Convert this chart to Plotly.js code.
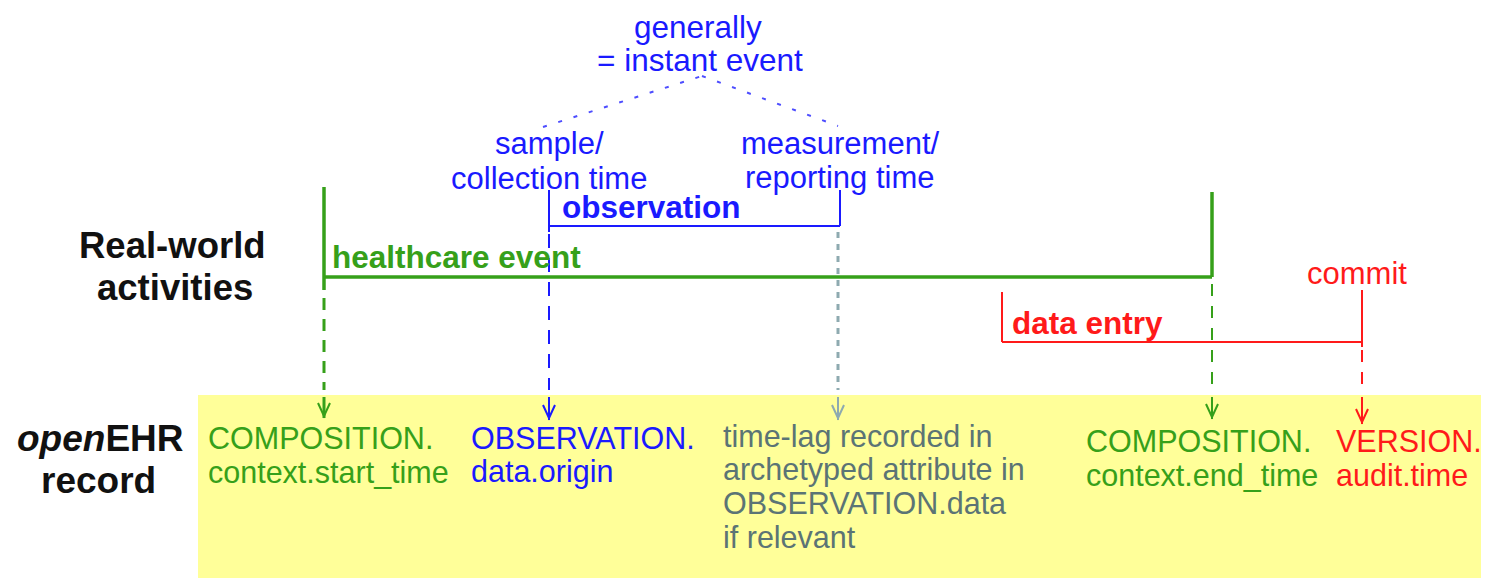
<!DOCTYPE html>
<html>
<head>
<meta charset="utf-8">
<script src="https://cdn.plot.ly/plotly-3.0.1.min.js"></script>
<style>html,body{margin:0;padding:0;background:#fff;}#chart{width:1485px;height:578px;}</style>
</head>
<body>
<div id="chart"></div>
<script>
// ---------- data ----------
const intervalNames  = ["healthcare event", "observation", "data entry"];
const intervalStart  = [324, 549, 1002];   // time axis units
const intervalEnd    = [1212, 840, 1362];

const pointLabels    = [["sample/", "collection time"], ["measurement/", "reporting time"], ["commit"]];
const pointTimes     = [549, 840, 1362];

const summaryLabel   = ["generally", "= instant event"];

const recordTimes    = [324, 549, 838, 1212, 1362];
const recordLabels   = [
  ["COMPOSITION.", "context.start_time"],
  ["OBSERVATION.", "data.origin"],
  ["time-lag recorded in", "archetyped attribute in", "OBSERVATION.data", "if relevant"],
  ["COMPOSITION.", "context.end_time"],
  ["VERSION.", "audit.time"]
];
const rowLabels      = [["Real-world", "activities"], ["<i>open</i>EHR", "record"]];

// ---------- styles / layout config ----------
const GREEN = "#36a01a", BLUE = "#1a1aff", RED = "#ff1a1a", GREYLINE = "#8eaab0", GREYTEXT = "#5b7475";
const FONT = "Liberation Sans, Arial, sans-serif";
const intervalStyle = [
  {color: GREEN, width: 3.5, level: 277, lTop: 187, lBot: 290, rTop: 192, rBot: 277, labelDx: 7, labelY: 257},
  {color: BLUE,  width: 2, level: 226, lTop: 190, lBot: 232, rTop: 190, rBot: 226, labelDx: 12, labelY: 207},
  {color: RED,   width: 2, level: 342, lTop: 292, lBot: 342, rTop: 290, rBot: 347, labelDx: 9, labelY: 323}
];
const dropStyle = [
  {color: GREEN,    width: 3, dash: "12px,9px",  from: 298, tip: 416, shaftW: 3},
  {color: BLUE,     width: 2, dash: "14px,10px", from: 234, tip: 418, shaftW: 2},
  {color: GREYLINE, width: 3, dash: "6px,6px",   from: 232, tip: 418, shaftW: 2},
  {color: GREEN,    width: 2, dash: "12px,10px", from: 284, tip: 417, shaftW: 2},
  {color: RED,      width: 2, dash: "12px,10px", from: 350, tip: 422, shaftW: 2}
];
const recordStyle = [
  {color: GREEN,    dx: -117},
  {color: BLUE,     dx: -79},
  {color: GREYTEXT, dx: -116},
  {color: GREEN,    dx: -127},
  {color: RED,      dx: -27}
];
const recTop = 438, recStep = 33.5;
const dashEnd = 390, shaftTop = 397;

const shapes = [];
const annotations = [];

// record panel
shapes.push({type: "rect", xref: "x", yref: "y", x0: 198, x1: 1481, y0: 395, y1: 578,
  fillcolor: "#FFFF99", line: {width: 0}, layer: "below"});

function seg(x0, y0, x1, y1, color, width, dash) {
  shapes.push({type: "line", xref: "x", yref: "y", x0, y0, x1, y1,
    line: {color, width, dash: dash || "solid"}});
}
function txt(x, y, text, color, size, anchor, bold) {
  annotations.push({x, y, xref: "x", yref: "y", text: bold ? "<b>" + text + "</b>" : text,
    showarrow: false, xanchor: anchor || "left", yanchor: "middle",
    font: {family: FONT, size, color}, borderpad: 0});
}

// record labels (drawn first so arrows sit on top)
recordLabels.forEach((lines, i) => {
  const st = recordStyle[i];
  const yOff = i >= 3 ? 3 : (i === 2 ? -2 : 0);
  lines.forEach((l, j) => txt(recordTimes[i] + st.dx, recTop + yOff + j * recStep, l, st.color, 30.5, "left"));
});

// interval brackets
intervalNames.forEach((name, i) => {
  const s = intervalStyle[i];
  seg(intervalStart[i], s.level, intervalEnd[i], s.level, s.color, s.width);
  seg(intervalStart[i], s.lTop, intervalStart[i], s.lBot, s.color, s.width);
  seg(intervalEnd[i], s.rTop, intervalEnd[i], s.rBot, s.color, s.width);
  txt(intervalStart[i] + s.labelDx, s.labelY, name, s.color, 31.5, "left", true);
});

// drop lines with open arrowheads
recordTimes.forEach((t, i) => {
  const d = dropStyle[i];
  seg(t, d.from, t, dashEnd, d.color, d.width, d.dash);
  seg(t, shaftTop, t, d.tip + 2, d.color, d.shaftW);
  shapes.push({type: "path", xref: "x", yref: "y",
    path: `M ${t - 6} ${d.tip - 13} L ${t} ${d.tip} L ${t + 6} ${d.tip - 13}`,
    line: {color: d.color, width: 2}});
});

// point labels
const pointY = [[143, 178], [143, 177], [273]];
pointLabels.forEach((lines, i) => {
  lines.forEach((l, j) => txt(pointTimes[i] + (i === 2 ? -5 : 0), pointY[i][j], l, i === 2 ? RED : BLUE, 31, "center"));
});

// summary label + dotted connectors
txt(698, 27, summaryLabel[0], BLUE, 31.5, "center");
txt(700, 60, summaryLabel[1], BLUE, 31.5, "center");
seg(pointTimes[0] - 6, 127, 702, 76, "#4d4dff", 2, "4px,12px");
seg(702, 76, pointTimes[1] - 2, 126, "#4d4dff", 2, "4px,12px");

// row labels
txt(172, 245, rowLabels[0][0], "#111", 36.5, "center", true);
txt(175, 287, rowLabels[0][1], "#111", 36.5, "center", true);
txt(100, 438, rowLabels[1][0], "#111", 37, "center", true);
txt(98, 480, rowLabels[1][1], "#111", 37, "center", true);

const layout = {
  width: 1485, height: 578,
  margin: {l: 0, r: 0, t: 0, b: 0, pad: 0},
  paper_bgcolor: "#ffffff", plot_bgcolor: "#ffffff",
  xaxis: {range: [0, 1485], visible: false, fixedrange: true},
  yaxis: {range: [578, 0], visible: false, fixedrange: true},
  shapes, annotations, showlegend: false
};
Plotly.newPlot("chart", [], layout, {staticPlot: true, displayModeBar: false});
</script>
</body>
</html>
